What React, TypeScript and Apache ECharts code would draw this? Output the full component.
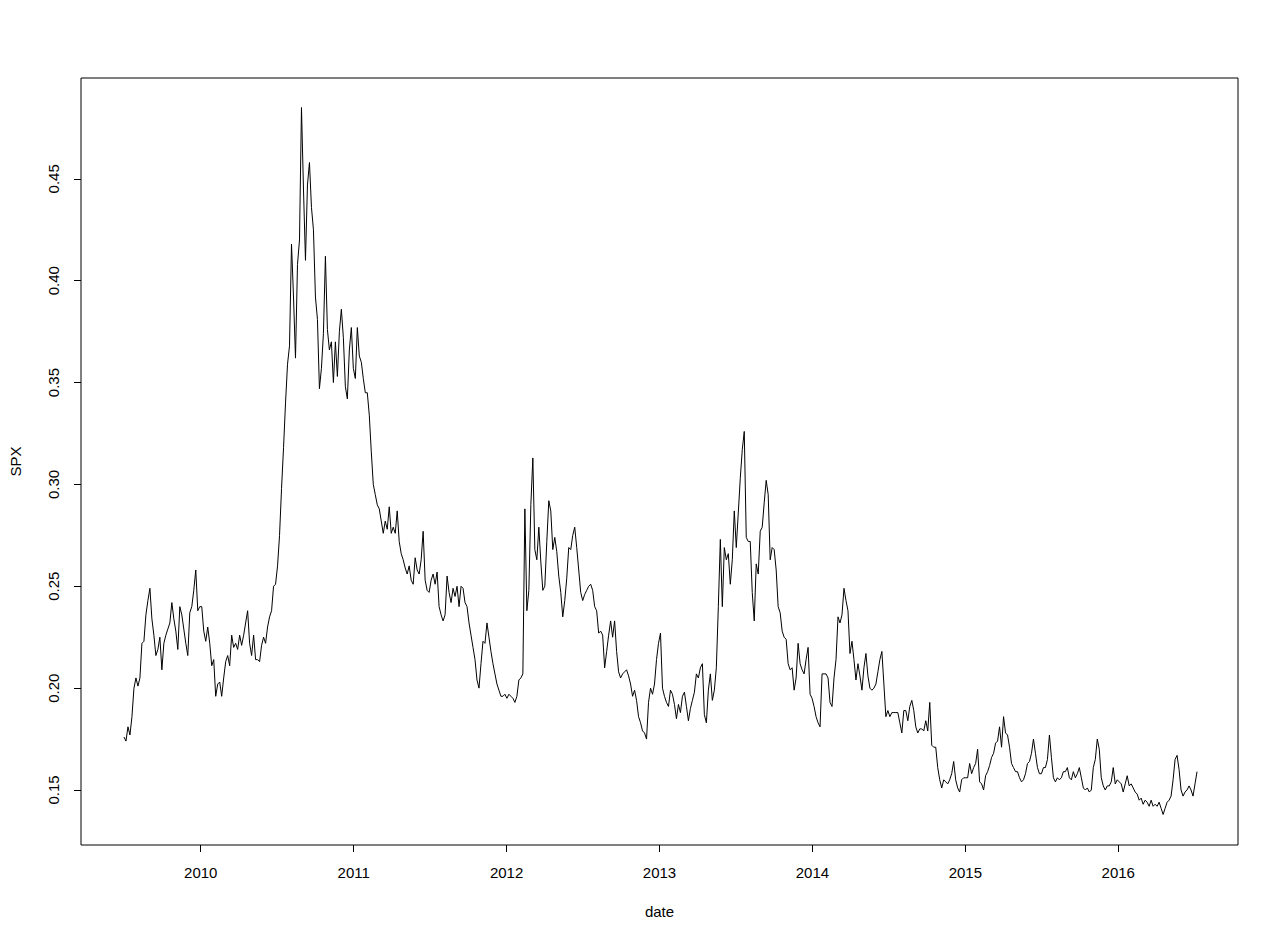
import React, { useEffect, useRef } from "react";
import * as echarts from "echarts";

const START_YEAR = 2009.498;
const END_YEAR = 2016.515;
const X_MIN = 2009.217;
const X_MAX = 2016.783;
const Y_MIN = 0.123;
const Y_MAX = 0.4995;
const X_TICKS = [2010, 2011, 2012, 2013, 2014, 2015, 2016];
const Y_TICKS = [0.15, 0.2, 0.25, 0.3, 0.35, 0.4, 0.45];
const X_NAME = "date";
const Y_NAME = "SPX";

const spx = [
  0.176, 0.174, 0.181, 0.177, 0.186, 0.2, 0.205, 0.201, 0.205, 0.222,
  0.223, 0.236, 0.243, 0.249, 0.234, 0.226, 0.216, 0.219, 0.225, 0.209,
  0.222, 0.226, 0.229, 0.232, 0.242, 0.234, 0.228, 0.219, 0.24, 0.236,
  0.229, 0.222, 0.216, 0.237, 0.24, 0.248, 0.258, 0.238, 0.24, 0.24,
  0.228, 0.223, 0.23, 0.222, 0.211, 0.214, 0.196, 0.202, 0.203, 0.196,
  0.205, 0.213, 0.216, 0.211, 0.226, 0.22, 0.222, 0.219, 0.226, 0.221,
  0.226, 0.232, 0.238, 0.222, 0.216, 0.226, 0.214, 0.214, 0.213, 0.221,
  0.225, 0.222, 0.23, 0.235, 0.238, 0.25, 0.251, 0.26, 0.275, 0.298,
  0.318, 0.34, 0.359, 0.368, 0.418, 0.392, 0.362, 0.408, 0.42, 0.485,
  0.445, 0.41, 0.447, 0.458, 0.436, 0.425, 0.392, 0.381, 0.347, 0.357,
  0.374, 0.412, 0.376, 0.366, 0.37, 0.35, 0.37, 0.353, 0.375, 0.386,
  0.372, 0.348, 0.342, 0.366, 0.377, 0.357, 0.352, 0.377, 0.363, 0.36,
  0.352, 0.345, 0.345, 0.334, 0.316, 0.3, 0.295, 0.29, 0.288, 0.282,
  0.276, 0.282, 0.278, 0.289, 0.276, 0.279, 0.276, 0.287, 0.272, 0.266,
  0.263, 0.259, 0.256, 0.26, 0.253, 0.251, 0.264, 0.258, 0.256, 0.263,
  0.277, 0.253, 0.248, 0.247, 0.253, 0.256, 0.251, 0.257, 0.24, 0.236,
  0.233, 0.236, 0.255, 0.247, 0.242, 0.249, 0.245, 0.25, 0.24, 0.25,
  0.249, 0.242, 0.24, 0.232, 0.226, 0.22, 0.214, 0.204, 0.2, 0.212,
  0.223, 0.222, 0.232, 0.225, 0.218, 0.212, 0.207, 0.202, 0.199, 0.196,
  0.196, 0.197, 0.195, 0.197, 0.196, 0.195, 0.193, 0.196, 0.204, 0.205,
  0.207, 0.288, 0.238, 0.248, 0.29, 0.313, 0.268, 0.263, 0.279, 0.262,
  0.248, 0.25, 0.272, 0.292, 0.287, 0.268, 0.274, 0.267, 0.255, 0.247,
  0.235, 0.243, 0.254, 0.269, 0.268, 0.275, 0.279, 0.269, 0.258, 0.247,
  0.243, 0.246, 0.248, 0.25, 0.251, 0.248, 0.24, 0.238, 0.227, 0.228,
  0.226, 0.21, 0.218, 0.226, 0.233, 0.225, 0.233, 0.218, 0.208, 0.205,
  0.207, 0.208, 0.209, 0.206, 0.202, 0.196, 0.199, 0.194, 0.186, 0.183,
  0.179, 0.178, 0.175, 0.193, 0.2, 0.197, 0.202, 0.214, 0.222, 0.227,
  0.2, 0.196, 0.193, 0.191, 0.199, 0.197, 0.192, 0.185, 0.192, 0.188,
  0.196, 0.198, 0.191, 0.184, 0.19, 0.194, 0.198, 0.207, 0.205, 0.21,
  0.212, 0.187, 0.183, 0.199, 0.207, 0.194, 0.199, 0.21, 0.24, 0.273,
  0.24, 0.269, 0.263, 0.266, 0.251, 0.263, 0.287, 0.269, 0.286, 0.303,
  0.317, 0.326, 0.274, 0.272, 0.272, 0.247, 0.233, 0.261, 0.256, 0.277,
  0.279, 0.291, 0.302, 0.295, 0.263, 0.269, 0.268, 0.258, 0.24, 0.237,
  0.228, 0.225, 0.224, 0.212, 0.209, 0.21, 0.199, 0.205, 0.222, 0.212,
  0.209, 0.207, 0.214, 0.22, 0.197, 0.195, 0.191, 0.186, 0.183, 0.181,
  0.207, 0.207, 0.207, 0.205, 0.193, 0.191, 0.205, 0.214, 0.235, 0.232,
  0.236, 0.249, 0.243, 0.238, 0.217, 0.223, 0.214, 0.204, 0.212, 0.206,
  0.199, 0.21, 0.217, 0.206, 0.2, 0.199, 0.2, 0.202, 0.208, 0.214,
  0.218, 0.202, 0.186, 0.189, 0.186, 0.188, 0.188, 0.188, 0.188, 0.183,
  0.178, 0.189, 0.189, 0.184, 0.191, 0.194, 0.189, 0.181, 0.178, 0.18,
  0.18, 0.179, 0.184, 0.179, 0.193, 0.172, 0.171, 0.171, 0.161, 0.155,
  0.151, 0.155, 0.154, 0.153, 0.155, 0.158, 0.164, 0.155, 0.151, 0.149,
  0.155, 0.156, 0.156, 0.156, 0.163, 0.158, 0.161, 0.163, 0.17, 0.154,
  0.153, 0.15, 0.157, 0.159, 0.162, 0.166, 0.168, 0.173, 0.174, 0.181,
  0.171, 0.186, 0.178, 0.177, 0.171, 0.163, 0.161, 0.159, 0.159, 0.156,
  0.154, 0.155, 0.158, 0.163, 0.164, 0.168, 0.175, 0.168, 0.161, 0.158,
  0.158, 0.161, 0.161, 0.165, 0.177, 0.166, 0.156, 0.154, 0.156, 0.155,
  0.156, 0.159, 0.159, 0.161, 0.156, 0.155, 0.159, 0.156, 0.158, 0.161,
  0.156, 0.151, 0.15, 0.151, 0.149, 0.15, 0.161, 0.165, 0.175, 0.17,
  0.156, 0.152, 0.15, 0.152, 0.152, 0.154, 0.161, 0.153, 0.155, 0.154,
  0.153, 0.149, 0.153, 0.157, 0.152, 0.153, 0.151, 0.149, 0.148, 0.145,
  0.146, 0.143, 0.145, 0.144, 0.142, 0.145, 0.142, 0.143, 0.142, 0.144,
  0.141, 0.138, 0.141, 0.144, 0.145, 0.147, 0.155, 0.165, 0.167, 0.16,
  0.15, 0.147, 0.149, 0.15, 0.152, 0.15, 0.147, 0.153, 0.159,
];

const FONT = "'Liberation Sans', Arial, sans-serif";
const FONT_SIZE = 15;

export default function App() {
  const ref = useRef<HTMLDivElement>(null);

  useEffect(() => {
    if (!ref.current) return;
    const chart = echarts.init(ref.current, null, { renderer: "svg" });
    const step = (END_YEAR - START_YEAR) / (spx.length - 1);
    const data = spx.map((v, i) => [START_YEAR + i * step, v]);

    chart.setOption({
      animation: false,
      backgroundColor: "#ffffff",
      textStyle: { fontFamily: FONT, color: "#000" },
      grid: {
        left: 78,
        right: 42,
        top: 78,
        bottom: 97,
        show: true,
        borderColor: "#000",
        borderWidth: 1,
        backgroundColor: "transparent",
      },
      xAxis: {
        type: "value",
        min: X_MIN,
        max: X_MAX,
        name: X_NAME,
        nameLocation: "middle",
        nameGap: 59,
        nameTextStyle: { fontFamily: FONT, fontSize: FONT_SIZE, color: "#000" },
        axisLine: { show: false },
        splitLine: { show: false },
        axisTick: {
          show: true,
          length: 7,
          customValues: X_TICKS,
          lineStyle: { color: "#000", width: 1 },
        },
        axisLabel: {
          customValues: X_TICKS,
          margin: 20,
          fontFamily: FONT,
          fontSize: FONT_SIZE,
          color: "#000",
          formatter: (v: number) => String(Math.round(v)),
        },
      },
      yAxis: {
        type: "value",
        min: Y_MIN,
        max: Y_MAX,
        name: Y_NAME,
        nameLocation: "middle",
        nameGap: 58,
        nameRotate: 90,
        nameTextStyle: { fontFamily: FONT, fontSize: FONT_SIZE, color: "#000" },
        axisLine: { show: false },
        splitLine: { show: false },
        axisTick: {
          show: true,
          length: 7,
          customValues: Y_TICKS,
          lineStyle: { color: "#000", width: 1 },
        },
        axisLabel: {
          customValues: Y_TICKS,
          rotate: 90,
          margin: 20,
          fontFamily: FONT,
          fontSize: FONT_SIZE,
          color: "#000",
          formatter: (v: number) => v.toFixed(2),
        },
      },
      series: [
        {
          type: "line",
          data,
          showSymbol: false,
          symbol: "none",
          lineStyle: { color: "#000", width: 1 },
          silent: true,
        },
      ],
    });

    return () => chart.dispose();
  }, []);

  return (
    <div
      ref={ref}
      style={{ position: "fixed", left: 0, top: 0, width: 1280, height: 942, background: "#fff" }}
    />
  );
}
